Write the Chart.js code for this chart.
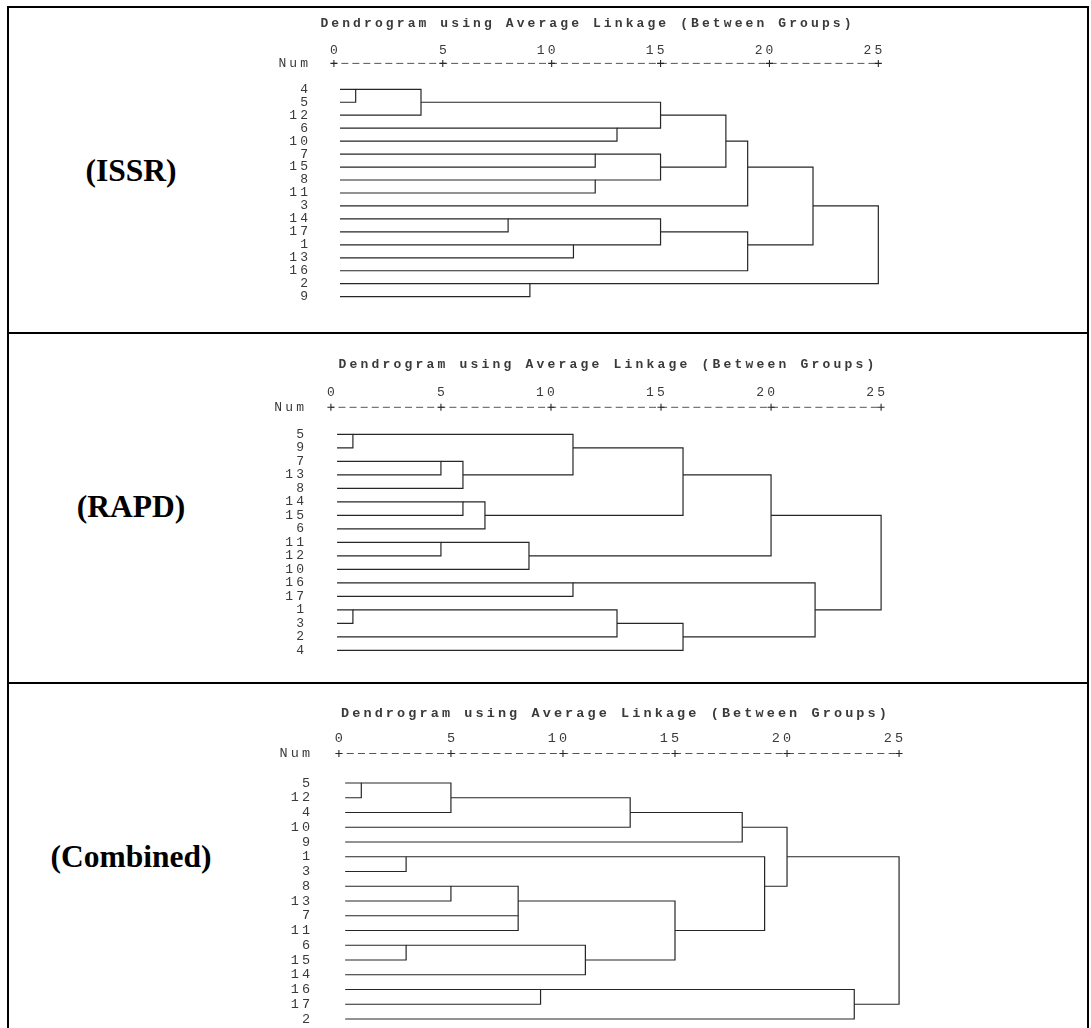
<!DOCTYPE html>
<html>
<head>
<meta charset="utf-8">
<script src="https://cdn.jsdelivr.net/npm/chart.js@4"></script>
<style>
  html, body { margin: 0; padding: 0; background: #fff; overflow: hidden; }
  body { width: 1091px; height: 1028px; position: relative; }
  .rule { position: absolute; background: #000; }
  .tag { position: absolute; width: 240px; margin-left: -120px; text-align: center;
         font: bold 31.5px/31.5px "Liberation Serif", "Times New Roman", serif; color: #000; }
  canvas { position: absolute; }
</style>
</head>
<body>
<div class="rule" style="left:7px;top:6px;width:1082px;height:2px"></div>
<div class="rule" style="left:7px;top:6px;width:2px;height:1022px"></div>
<div class="rule" style="left:1087px;top:6px;width:2px;height:1022px"></div>
<div class="rule" style="left:7px;top:332px;width:1082px;height:2px"></div>
<div class="rule" style="left:7px;top:682px;width:1082px;height:2px"></div>

<div class="tag" style="left:131px;top:155px">(ISSR)</div>
<div class="tag" style="left:131px;top:491px">(RAPD)</div>
<div class="tag" style="left:131px;top:841px">(Combined)</div>

<canvas id="issr"></canvas>
<canvas id="rapd"></canvas>
<canvas id="comb"></canvas>

<script>
const tickLabels = [0, 5, 10, 15, 20, 25];
const titleText = "Dendrogram using Average Linkage (Between Groups)";

// ISSR: leaf order, merged pairs ("#k" = cluster made by merge k), rescaled distances
const issrLeaves = [4, 5, 12, 6, 10, 7, 15, 8, 11, 3, 14, 17, 1, 13, 16, 2, 9];
const issrPairs = [[4, 5], ["#0", 12], [6, 10], ["#1", "#2"], [7, 15], [8, 11], ["#4", "#5"], ["#3", "#6"],
                   ["#7", 3], [14, 17], [1, 13], ["#9", "#10"], ["#11", 16], ["#8", "#12"], [2, 9], ["#13", "#14"]];
const issrHeights = [1, 4, 13, 15, 12, 12, 15, 18, 19, 8, 11, 15, 19, 22, 9, 25];

// RAPD
const rapdLeaves = [5, 9, 7, 13, 8, 14, 15, 6, 11, 12, 10, 16, 17, 1, 3, 2, 4];
const rapdPairs = [[5, 9], [7, 13], ["#1", 8], ["#0", "#2"], [14, 15], ["#4", 6], ["#3", "#5"], [11, 12],
                   ["#7", 10], ["#6", "#8"], [16, 17], [1, 3], ["#11", 2], ["#12", 4], ["#10", "#13"], ["#9", "#14"]];
const rapdHeights = [1, 5, 6, 11, 6, 7, 16, 5, 9, 20, 11, 1, 13, 16, 22, 25];

// Combined
const combLeaves = [5, 12, 4, 10, 9, 1, 3, 8, 13, 7, 11, 6, 15, 14, 16, 17, 2];
const combPairs = [[5, 12], ["#0", 4], ["#1", 10], ["#2", 9], [1, 3], [8, 13], [7, 11], ["#5", "#6"],
                   [6, 15], ["#8", 14], ["#7", "#9"], ["#4", "#10"], ["#3", "#11"], [16, 17], ["#13", 2], ["#12", "#14"]];
const combHeights = [1, 5, 13, 18, 3, 5, 8, 8, 3, 11, 15, 19, 20, 9, 23, 25];

const LEAF_START = 0.28;
const AXIS_ROW = -2;
const MONO = "'Liberation Mono', 'DejaVu Sans Mono', monospace";
const INK = "#262626";
const TEXT = "#3a3a3a";
const LEFT = 240, PAD_BOTTOM = 24;

// where each panel sits on the page
const panels = [
  { id: "issr", leaves: issrLeaves, pairs: issrPairs, heights: issrHeights,
    top: 9, height: 322, titleY: 24, titleCx: 586, numY: 51, row0: 89.3, rowGap: 12.96,
    zeroX: 334, unit: 21.96, labelRight: 308, size: 13, pitch: 10.9 },
  { id: "rapd", leaves: rapdLeaves, pairs: rapdPairs, heights: rapdHeights,
    top: 336, height: 344, titleY: 365, titleCx: 606.5, numY: 393, row0: 434.3, rowGap: 13.5,
    zeroX: 331, unit: 22.18, labelRight: 304, size: 13, pitch: 11.0 },
  { id: "comb", leaves: combLeaves, pairs: combPairs, heights: combHeights,
    top: 686, height: 370, titleY: 714, titleCx: 614, numY: 738.3, row0: 783, rowGap: 14.75,
    zeroX: 339, unit: 22.58, labelRight: 310, size: 13.5, pitch: 11.2 }
];

function brackets(leaves, pairs, heights) {
  const row = {}, level = {};
  leaves.forEach((leaf, i) => { row[leaf] = i; level[leaf] = LEAF_START; });
  return pairs.map(([a, b], k) => {
    const h = heights[k];
    const seg = [
      { x: level[a], y: row[a] }, { x: h, y: row[a] },
      { x: h, y: row[b] }, { x: level[b], y: row[b] }
    ];
    row["#" + k] = Math.floor((row[a] + row[b]) / 2);
    level["#" + k] = h;
    return seg;
  });
}

panels.forEach(p => {
  const space = p.pitch - 0.6 * p.size;
  const width = Math.round(2 * (p.titleCx + space / 2 - LEFT));
  const chartLeft = p.zeroX - 0.6 * p.unit;
  const chartTop = p.row0 + AXIS_ROW * p.rowGap - 6;
  const chartBottom = p.top + p.height - PAD_BOTTOM;
  const padTop = p.titleY - 7 - p.top;
  const xAxisH = chartTop - (p.top + padTop + 14);
  const yMin = (chartTop - p.row0) / p.rowGap;
  const yMax = yMin + (chartBottom - chartTop) / p.rowGap;
  const xMin = (chartLeft - p.zeroX) / p.unit;
  const xMax = (LEFT + width - p.zeroX) / p.unit;
  const font = { family: MONO, size: p.size, lineHeight: "14px" };
  const period = p.unit / 2;

  const canvas = document.getElementById(p.id);
  canvas.width = width;
  canvas.height = p.height;
  canvas.style.left = LEFT + "px";
  canvas.style.top = p.top + "px";
  canvas.style.width = width + "px";
  canvas.style.height = p.height + "px";

  const datasets = brackets(p.leaves, p.pairs, p.heights).map(seg => ({
    data: seg, showLine: true, pointRadius: 0, borderColor: INK, borderWidth: 1.2, tension: 0
  }));
  datasets.push({
    data: tickLabels.map(v => ({ x: v, y: AXIS_ROW })),
    showLine: true, borderColor: "#555", borderWidth: 1,
    borderDash: [7, period - 7], borderDashOffset: 3.5,
    pointStyle: "cross", pointRadius: 3.5, pointBorderColor: INK, pointBorderWidth: 1.1
  });

  const spacing = {
    id: "spacing",
    beforeLayout(c) { c.ctx.letterSpacing = space + "px"; },
    beforeDraw(c) { c.ctx.letterSpacing = space + "px"; }
  };

  new Chart(canvas, {
    type: "scatter",
    data: { datasets },
    plugins: [spacing],
    options: {
      responsive: false,
      animation: false,
      devicePixelRatio: 1,
      events: [],
      layout: { padding: { left: 0, right: 0, top: 0, bottom: PAD_BOTTOM } },
      plugins: {
        legend: { display: false },
        tooltip: { enabled: false },
        title: {
          display: true, text: titleText, color: TEXT, font: font,
          padding: { top: padTop, bottom: 0 }
        }
      },
      scales: {
        x: {
          type: "linear", position: "top", min: xMin, max: xMax,
          afterBuildTicks: s => { s.ticks = tickLabels.map(v => ({ value: v })); },
          afterFit: s => { s.height = xAxisH; },
          grid: { display: false, drawTicks: false },
          border: { display: false },
          ticks: {
            font: font, color: TEXT, autoSkip: false, maxRotation: 0,
            align: "end", labelOffset: space + 0.3 * p.size,
            padding: Math.max(0, chartTop - p.numY - 7),
            callback: v => String(v)
          }
        },
        y: {
          type: "linear", reverse: true, min: yMin, max: yMax,
          afterBuildTicks: s => { s.ticks = [AXIS_ROW, ...p.leaves.map((_, i) => i)].map(v => ({ value: v })); },
          afterFit: s => { s.width = chartLeft - LEFT; },
          grid: { display: false, drawTicks: false },
          border: { display: false },
          ticks: {
            font: font, color: TEXT, autoSkip: false,
            padding: chartLeft - p.labelRight - space,
            callback: v => v === AXIS_ROW ? "Num" : String(p.leaves[v])
          }
        }
      }
    }
  });
});
</script>
</body>
</html>
